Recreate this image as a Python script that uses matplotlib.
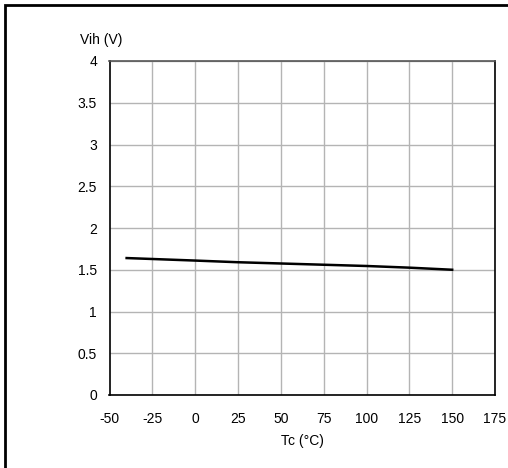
import matplotlib.pyplot as plt
from matplotlib.patches import Rectangle

plt.rcParams['font.family'] = ['Liberation Sans', 'DejaVu Sans']

# Vih vs case temperature
temp = [-40, 0, 25, 50, 75, 100, 125, 150]
vih = [1.64, 1.61, 1.59, 1.575, 1.56, 1.545, 1.525, 1.50]

xticks = [-50, -25, 0, 25, 50, 75, 100, 125, 150, 175]
yticks = [0, 0.5, 1, 1.5, 2, 2.5, 3, 3.5, 4]
ytick_labels = ['0', '0.5', '1', '1.5', '2', '2.5', '3', '3.5', '4']

fig = plt.figure(figsize=(5.08, 4.68), dpi=100)
ax = fig.add_axes([109.5 / 508, 73 / 468, 385.5 / 508, 334 / 468])

ax.plot(temp, vih, color='black', lw=1.8)

ax.set_xlim(-50, 175)
ax.set_ylim(0, 4)
ax.set_xticks(xticks)
ax.set_xticklabels([str(t) for t in xticks])
ax.set_yticks(yticks)
ax.set_yticklabels(ytick_labels)
ax.tick_params(length=0, labelsize=10)
ax.tick_params(axis='y', pad=9)
ax.tick_params(axis='x', pad=12)
ax.grid(True, color='#b4b4b4', lw=1)
ax.set_axisbelow(True)
for s in ax.spines.values():
    s.set_color('black')
    s.set_linewidth(1.2)
ax.spines['top'].set_color('#555555')

fig.text(80 / 508, 1 - 40 / 468, 'Vih (V)', fontsize=10, ha='left', va='center')
fig.text(302 / 508, 1 - 441 / 468, 'Tc (°C)', fontsize=10, ha='center', va='center')

# outer frame, cut off at right and bottom
fig.patches.append(Rectangle((4.5 / 508, -0.05), 1.2, 1 - 5.5 / 468 + 0.05,
                             transform=fig.transFigure, fill=False,
                             edgecolor='black', lw=2))

plt.savefig('out.png', dpi=100)
